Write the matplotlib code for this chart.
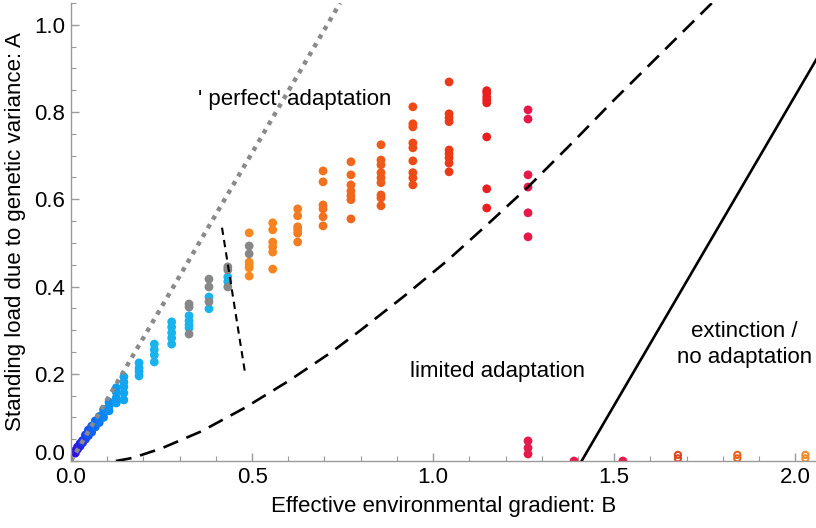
import matplotlib.pyplot as plt
from matplotlib.ticker import MultipleLocator, FuncFormatter

# simulation columns: effective gradient B and standing load A
cols_B = [0.012, 0.018, 0.025, 0.032, 0.040, 0.048, 0.057, 0.067, 0.078, 0.090,
          0.105, 0.125, 0.146, 0.188, 0.230, 0.278, 0.326, 0.381, 0.433,
          0.492, 0.557, 0.626, 0.696, 0.773, 0.856, 0.944, 1.044, 1.148,
          1.262, 1.389, 1.524]
cols_A = [
    [0.018, 0.024],
    [0.027, 0.032],
    [0.034, 0.040],
    [0.042, 0.047],
    [0.050, 0.056, 0.060],
    [0.058, 0.065, 0.071],
    [0.066, 0.074, 0.080],
    [0.078, 0.086, 0.092],
    [0.088, 0.095, 0.102],
    [0.100, 0.110, 0.118],
    [0.115, 0.125, 0.135],
    [0.133, 0.145, 0.158, 0.168],
    [0.140, 0.156, 0.170, 0.181, 0.193],
    [0.195, 0.205, 0.213, 0.225],
    [0.227, 0.243, 0.255, 0.268],
    [0.268, 0.282, 0.294, 0.307, 0.319],
    [0.305, 0.312, 0.321, 0.333],
    [0.349, 0.376],
    [0.411, 0.422],
    [0.424, 0.443, 0.450, 0.456, 0.523],
    [0.440, 0.479, 0.491, 0.502, 0.530, 0.546],
    [0.502, 0.522, 0.530, 0.537, 0.562, 0.578],
    [0.539, 0.560, 0.578, 0.587, 0.640, 0.665],
    [0.555, 0.599, 0.608, 0.619, 0.633, 0.656, 0.686],
    [0.585, 0.603, 0.610, 0.638, 0.649, 0.661, 0.679, 0.690, 0.725],
    [0.633, 0.649, 0.661, 0.688, 0.718, 0.729, 0.766, 0.773, 0.812],
    [0.663, 0.683, 0.695, 0.704, 0.713, 0.778, 0.787, 0.796, 0.869],
    [0.580, 0.624, 0.743, 0.821, 0.828, 0.835, 0.844, 0.849],
    [0.016, 0.030, 0.046, 0.514, 0.569, 0.628, 0.656, 0.784, 0.805],
    [0.0],
    [0.0],
]
cols_color = ['#3010DE', '#2A18E2', '#2422E6', '#1E2EEA', '#1840EE', '#1450F0',
              '#1060F2', '#0E6CF2', '#0C78F2', '#0C84F2', '#0C90F2', '#0E9CF2',
              '#12A6F2', '#16AEF0', '#18B4EE', '#18B4EE', '#18B4EE', '#18B4EE',
              '#18B4EE', '#F6891F', '#F58420', '#F47C20', '#F2711E', '#F0661C',
              '#EE5A1A', '#EC4A17', '#EA3A16', '#EA2020', '#E6194B', '#E6194B',
              '#E6194B']

gray_B = [0.326, 0.326, 0.326, 0.381, 0.381, 0.381, 0.433, 0.433, 0.433, 0.492, 0.492]
gray_A = [0.360, 0.353, 0.291, 0.417, 0.399, 0.365, 0.445, 0.438, 0.399, 0.493, 0.475]

# populations that went extinct (open markers)
open_B = [1.676, 1.840, 2.028]
open_A = [[0.006, 0.014], [0.006, 0.014], [0.006, 0.014]]
open_color = ['#E2461C', '#E8641C', '#F08A2A']

# theory curves
perfect_B = [0.0, 0.743]
perfect_A = [0.0, 1.05]
limit_B = [0.124, 0.17, 0.25, 0.36, 0.48, 0.60, 0.72, 0.80, 0.92, 1.04,
           1.16, 1.263, 1.38, 1.50, 1.63, 1.77]
limit_A = [0.0, 0.007, 0.029, 0.068, 0.122, 0.183, 0.25, 0.30, 0.378, 0.46,
           0.55, 0.629, 0.726, 0.828, 0.935, 1.05]
extinct_B = [1.41, 2.10]
extinct_A = [0.0, 0.98]
short_B = [0.417, 0.481]
short_A = [0.535, 0.20]

plt.rcParams['font.family'] = ['Liberation Sans', 'DejaVu Sans']

fig = plt.figure(figsize=(8.16, 5.28), dpi=100)
ax = fig.add_axes([71 / 816, 67 / 528, 746 / 816, 458 / 528])

for b, avals, c in zip(cols_B, cols_A, cols_color):
    ax.scatter([b] * len(avals), avals, s=40, color=c, edgecolors='none', zorder=2)
ax.scatter(gray_B, gray_A, s=40, color='#878787', edgecolors='none', zorder=2)
for b, avals, c in zip(open_B, open_A, open_color):
    ax.scatter([b] * len(avals), avals, s=20, facecolors='none', edgecolors=c,
               linewidths=1.5, zorder=2)

ax.plot(perfect_B, perfect_A, color='#8A8A8A', lw=3.2, linestyle=(0, (1, 1.25)),
        dash_capstyle='butt', zorder=3)
ax.plot(limit_B, limit_A, color='black', lw=1.9, linestyle=(0, (6, 3.4)), zorder=3)
ax.plot(extinct_B, extinct_A, color='black', lw=1.9, zorder=3)
ax.plot(short_B, short_A, color='black', lw=1.5, linestyle=(0, (3.5, 2.5)), zorder=3)

ax.text(0.35, 0.828, "' perfect' adaptation", fontsize=16, va='center', ha='left')
ax.text(0.935, 0.205, "limited adaptation", fontsize=16, va='center', ha='left')
ax.text(1.86, 0.268, "extinction /\nno adaptation", fontsize=16, va='center',
        ha='center', linespacing=1.3)

ax.set_xlim(0, 2.06)
ax.set_ylim(0, 1.05)
ax.xaxis.set_major_locator(MultipleLocator(0.5))
ax.xaxis.set_minor_locator(MultipleLocator(0.1))
ax.yaxis.set_major_locator(MultipleLocator(0.2))
ax.yaxis.set_minor_locator(MultipleLocator(0.05))
ax.xaxis.set_major_formatter(FuncFormatter(lambda v, p: '%.1f' % v))
# the y "0.0" label is lifted off the corner, as in the original
ax.yaxis.set_major_formatter(FuncFormatter(lambda v, p: '' if abs(v) < 1e-9 else '%.1f' % v))
ax.annotate('0.0', xy=(0, 0), xycoords='data', xytext=(-4, 4.5),
            textcoords='offset points', ha='right', va='center', fontsize=16,
            annotation_clip=False)

for side in ['top', 'right']:
    ax.spines[side].set_visible(False)
for side in ['left', 'bottom']:
    ax.spines[side].set_color('#9A9A9A')
    ax.spines[side].set_linewidth(1.0)
ax.tick_params(which='both', direction='in', color='#9A9A9A', labelsize=16)
ax.tick_params(which='major', length=6, width=1.0)
ax.tick_params(which='minor', length=3.5, width=0.8)
ax.tick_params(axis='x', pad=4)
ax.tick_params(axis='y', pad=4)

ax.set_xlabel('Effective environmental gradient: B', fontsize=16, labelpad=6)
ax.set_ylabel('Standing load due to genetic variance: A', fontsize=16, labelpad=6)

fig.savefig('out.png', dpi=100)
